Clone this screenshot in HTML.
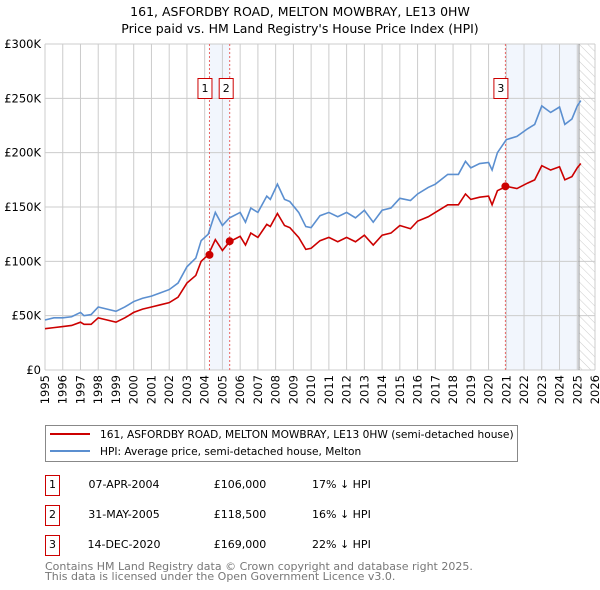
<!DOCTYPE html>
<html><head><meta charset="utf-8"><style>
body{margin:0;background:#fff;width:600px;height:590px;overflow:hidden;font-family:"DejaVu Sans","Liberation Sans",sans-serif;}
svg{position:absolute;left:0;top:0}
</style></head><body>
<svg id="c" width="600" height="590">
<defs><pattern id="hatch" width="6" height="6" patternUnits="userSpaceOnUse" patternTransform="rotate(-45)"><line x1="0" y1="0" x2="0" y2="6" stroke="#ccc" stroke-width="1"/></pattern></defs>
<text x="300" y="16" text-anchor="middle" font-size="12.5" fill="#000">161, ASFORDBY ROAD, MELTON MOWBRAY, LE13 0HW</text>
<text x="300" y="33" text-anchor="middle" font-size="12.5" fill="#000">Price paid vs. HM Land Registry's House Price Index (HPI)</text>
<g id="plot"></g>
<rect x="45.5" y="425.5" width="472" height="36" fill="none" stroke="#888"/>
<line x1="50" y1="434" x2="90" y2="434" stroke="#cc0000" stroke-width="2"/>
<text x="100" y="438" font-size="10.6">161, ASFORDBY ROAD, MELTON MOWBRAY, LE13 0HW (semi-detached house)</text>
<line x1="50" y1="451" x2="90" y2="451" stroke="#5b8fd0" stroke-width="2"/>
<text x="100" y="455" font-size="10.6">HPI: Average price, semi-detached house, Melton</text>
<g font-size="11" fill="#000">
<rect x="45.5" y="475.5" width="14" height="20" fill="none" stroke="#cc0000"/><text x="52.5" y="488" text-anchor="middle">1</text>
<text x="124" y="488" text-anchor="middle">07-APR-2004</text><text x="240" y="488" text-anchor="middle">£106,000</text><text x="312" y="488">17% ↓ HPI</text>
<rect x="45.5" y="505.5" width="14" height="20" fill="none" stroke="#cc0000"/><text x="52.5" y="518" text-anchor="middle">2</text>
<text x="124" y="518" text-anchor="middle">31-MAY-2005</text><text x="240" y="518" text-anchor="middle">£118,500</text><text x="312" y="518">16% ↓ HPI</text>
<rect x="45.5" y="535.5" width="14" height="20" fill="none" stroke="#cc0000"/><text x="52.5" y="548" text-anchor="middle">3</text>
<text x="124" y="548" text-anchor="middle">14-DEC-2020</text><text x="240" y="548" text-anchor="middle">£169,000</text><text x="312" y="548">22% ↓ HPI</text>
</g>
<text x="45" y="570" font-size="11" fill="#777">Contains HM Land Registry data © Crown copyright and database right 2025.</text>
<text x="45" y="580" font-size="11" fill="#777">This data is licensed under the Open Government Licence v3.0.</text>
</svg>
<script>
const hpiYears=[1995,1995.5,1996,1996.5,1997,1997.2,1997.6,1998,1998.5,1999,1999.5,2000,2000.5,2001,2001.5,2002,2002.5,2003,2003.5,2003.8,2004.2,2004.6,2005,2005.4,2006,2006.3,2006.6,2007,2007.5,2007.7,2008.1,2008.5,2008.8,2009.3,2009.7,2010,2010.5,2011,2011.5,2012,2012.5,2013,2013.5,2014,2014.5,2015,2015.6,2016,2016.6,2017,2017.7,2018.3,2018.7,2019,2019.5,2020,2020.2,2020.5,2021,2021.6,2022.2,2022.6,2023,2023.5,2024,2024.3,2024.7,2025,2025.2];
const hpiValues=[46,48,48,49,53,50,51,58,56,54,58,63,66,68,71,74,80,95,103,119,125,145,133,140,145,136,149,145,160,157,171,157,155,145,132,131,142,145,141,145,140,147,136,147,149,158,156,162,168,171,180,180,192,186,190,191,184,200,212,215,222,226,243,237,242,226,231,243,248];
const priceValues=[38,39,40,41,44,42,42,48,46,44,48,53,56,58,60,62,67,80,87,100,106,120,110,118,123,115,126,122,134,132,144,133,131,122,111,112,119,122,118,122,118,124,115,124,126,133,130,137,141,145,152,152,162,157,159,160,152,165,169,167,172,175,188,184,187,175,178,186,190];
const saleDates=[2004.27,2005.41,2020.95];
const saleValues=[106000,118500,169000];
const yTicks=[0,50,100,150,200,250,300];
const yTickLabels=["£0","£50K","£100K","£150K","£200K","£250K","£300K"];
const xYears=[1995,1996,1997,1998,1999,2000,2001,2002,2003,2004,2005,2006,2007,2008,2009,2010,2011,2012,2013,2014,2015,2016,2017,2018,2019,2020,2021,2022,2023,2024,2025,2026];
const X0=45,X1=595,Y0=370,Y1=44;
const xs=y=>X0+(y-1995)/(2026-1995)*(X1-X0);
const ys=v=>Y0-v/300*(Y0-Y1);
const NS="http://www.w3.org/2000/svg";
const g=document.getElementById('plot');
function mk(t,a,p){const e=document.createElementNS(NS,t);for(const k in a)e.setAttribute(k,a[k]);(p||g).appendChild(e);return e;}
let e;
e=mk('rect',{x:xs(saleDates[0]),y:Y1,width:xs(saleDates[1])-xs(saleDates[0]),height:Y0-Y1,fill:'#f2f6fd'});


e=mk('rect',{x:xs(saleDates[2]),y:Y1,width:xs(2025.1)-xs(saleDates[2]),height:Y0-Y1,fill:'#f2f6fd'});


e=mk('rect',{x:xs(2025.1),y:Y1,width:X1-xs(2025.1),height:Y0-Y1,fill:'url(#hatch)'});


yTicks.forEach((t,i)=>{
 e=mk('line',{x1:X0,x2:X1,y1:ys(t),y2:ys(t),stroke:'#ccc'});
 
 
 e=mk('text',{x:X0-4,y:ys(t)+4,'text-anchor':'end','font-size':11.5});
 e.textContent=yTickLabels[i];
 
 
});
xYears.forEach(yr=>{
 e=mk('line',{x1:xs(yr),x2:xs(yr),y1:Y1,y2:Y0,stroke:'#ccc'});
 
 
 e=mk('text',{x:0,y:0,'text-anchor':'end','font-size':11.5,transform:`translate(${xs(yr)+4},${Y0+5}) rotate(-90)`});
 e.textContent=yr;
 
 
});
e=mk('line',{x1:xs(2025.1),x2:xs(2025.1),y1:Y1,y2:Y0,stroke:'#999'});


saleDates.forEach((d,i)=>{
 e=mk('line',{x1:xs(d),x2:xs(d),y1:Y1,y2:Y0,stroke:'#e86666','stroke-dasharray':'2,2'});
 
 
});
e=mk('path',{d:hpiYears.map((y,i)=>(i?'L':'M')+xs(y)+','+ys(hpiValues[i])).join(''),fill:'none',stroke:'#5b8fd0','stroke-width':1.6});


e=mk('path',{d:hpiYears.map((y,i)=>(i?'L':'M')+xs(y)+','+ys(priceValues[i])).join(''),fill:'none',stroke:'#cc0000','stroke-width':1.6});


saleDates.forEach((d,i)=>{
 e=mk('circle',{cx:xs(d),cy:ys(saleValues[i]/1000),r:4,fill:'#cc0000'});
 
 
 const cx=i==0?xs(d)-4:(i==1?xs(d)-3:xs(d)-4);
 e=mk('rect',{x:cx-7.5,y:78.5,width:14,height:20,fill:'#fff',stroke:'#cc0000'});
 
 
 e=mk('text',{x:cx-0.5,y:92,'text-anchor':'middle','font-size':11});
 e.textContent=String(i+1);
 
 
});
</script>
</body></html>
